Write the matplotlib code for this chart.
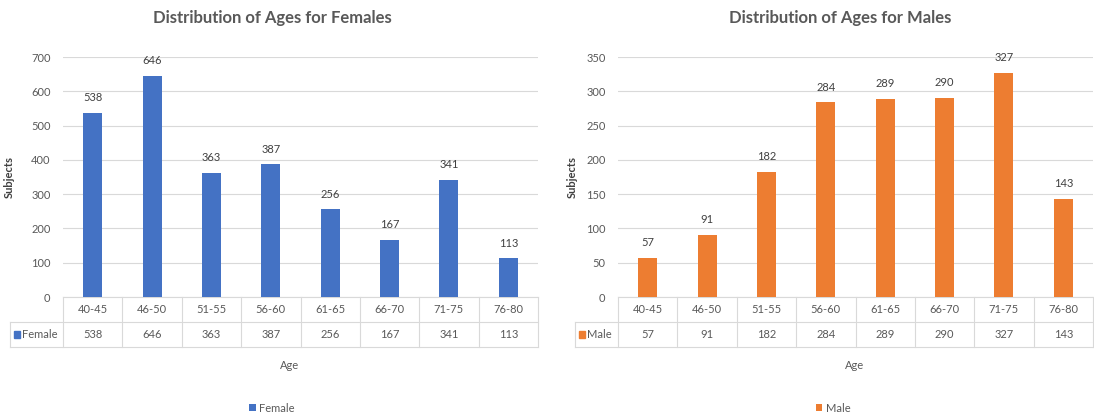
import matplotlib.pyplot as plt
import matplotlib.transforms as mtransforms
from matplotlib.patches import Rectangle

plt.rcParams['font.family'] = ['Lato', 'DejaVu Sans']

# 年龄分组与人数
age_groups = ['40-45', '46-50', '51-55', '56-60', '61-65', '66-70', '71-75', '76-80']
female_counts = [538, 646, 363, 387, 256, 167, 341, 113]
male_counts = [57, 91, 182, 284, 289, 290, 327, 143]

W, H = 1094, 419
fig = plt.figure(figsize=(W / 100, H / 100), dpi=100)

txt_gray = '#595959'
grid_gray = '#D9D9D9'


def draw_panel(left_px, label_w_px, counts, color, series, title, ymax, ystep,
               ylabel_px, title_x, age_x, legend_x):
    ax = fig.add_axes([left_px / W, (H - 297) / H, 475 / W, 240 / H])
    x = list(range(len(age_groups)))
    bars = ax.bar(x, counts, width=0.32, color=color, zorder=3, label=series)
    ax.bar_label(bars, padding=7, fontsize=8, color='#404040')
    ax.set_xlim(-0.5, len(age_groups) - 0.5)
    ax.set_ylim(0, ymax)
    ax.set_yticks(range(0, ymax + 1, ystep))
    ax.tick_params(axis='y', length=0, labelsize=8, labelcolor=txt_gray, pad=9)
    ax.set_xticks([])
    ax.grid(axis='y', color=grid_gray, lw=0.8, zorder=0)
    for s in ax.spines.values():
        s.set_visible(False)
    ax.set_ylabel('Subjects', fontsize=8, fontweight='bold', color='#404040')
    ax.yaxis.set_label_coords((ylabel_px - left_px) / 475, 0.5)
    fig.text(title_x / W, (H - 18) / H, title, ha='center', va='center',
             fontsize=12, fontweight='bold', color=txt_gray)

    # 数据表：类别行与数值行
    tr = mtransforms.blended_transform_factory(ax.transData, ax.transAxes)
    row_h = 25 / 240
    cell = 475 / len(age_groups)
    x_lab = -0.5 - label_w_px / cell
    lk = dict(transform=tr, color=grid_gray, lw=0.8, clip_on=False)
    ax.plot([-0.5, 7.5], [0, 0], **lk)
    ax.plot([x_lab, 7.5], [-row_h, -row_h], **lk)
    ax.plot([x_lab, 7.5], [-2 * row_h, -2 * row_h], **lk)
    ax.plot([x_lab, x_lab], [-row_h, -2 * row_h], **lk)
    for b in range(len(age_groups) + 1):
        ax.plot([b - 0.5, b - 0.5], [0, -2 * row_h], **lk)
    for i, (g, v) in enumerate(zip(age_groups, counts)):
        ax.text(i, -row_h / 2, g, transform=tr, ha='center', va='center',
                fontsize=8, color=txt_gray)
        ax.text(i, -1.5 * row_h, str(v), transform=tr, ha='center', va='center',
                fontsize=8, color=txt_gray)
    sq = 6 / cell
    ax.add_patch(Rectangle((x_lab + 0.06, -1.5 * row_h - 0.014), sq, 0.028,
                           transform=tr, color=color, clip_on=False))
    ax.text(x_lab + 0.06 + sq + 0.04, -1.5 * row_h, series, transform=tr,
            ha='left', va='center', fontsize=8, color=txt_gray)

    fig.text(age_x / W, (H - 365) / H, 'Age', ha='center',
             va='center', fontsize=8, color=txt_gray)
    fig.legend(handles=[bars], loc='center', bbox_to_anchor=(legend_x / W, (H - 408) / H),
               frameon=False, fontsize=8, labelcolor=txt_gray, handlelength=0.6,
               handleheight=0.6, handletextpad=0.3)
    return ax


draw_panel(63, 53, female_counts, '#4472C4', 'Female',
           'Distribution of Ages for Females', 700, 100, 15, 272, 290, 272)
draw_panel(618, 43, male_counts, '#ED7D31', 'Male',
           'Distribution of Ages for Males', 350, 50, 578, 840, 855, 833)

fig.savefig('out.png', dpi=100, facecolor='white')
